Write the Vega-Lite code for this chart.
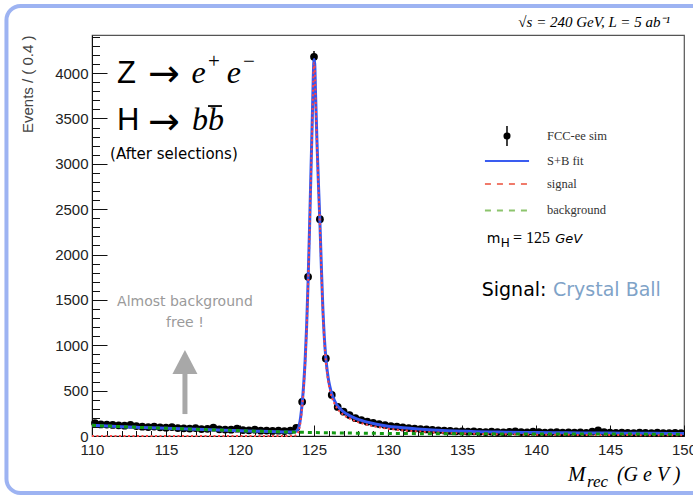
{
  "$schema": "https://vega.github.io/schema/vega-lite/v6.json",
  "width": 592,
  "height": 401,
  "autosize": {"type": "none"},
  "padding": {"left": 92, "top": 35, "right": 9, "bottom": 60},
  "background": "white",
  "config": {
    "view": {"stroke": "#555555", "strokeWidth": 1.2},
    "axis": {
      "grid": false,
      "domainColor": "#111111",
      "tickColor": "#111111",
      "labelFont": "Liberation Sans",
      "labelFontSize": 15,
      "labelColor": "#222222",
      "labelFlush": false,
      "labelOverlap": false,
      "labelBound": false
    }
  },
  "datasets": {
    "hist": [
      {"m": 110.2, "n": 142, "err": 11.9}, {"m": 110.6, "n": 128, "err": 11.3}, {"m": 111.0, "n": 126, "err": 11.2},
      {"m": 111.4, "n": 122, "err": 11.0}, {"m": 111.8, "n": 118, "err": 10.9}, {"m": 112.2, "n": 114, "err": 10.7},
      {"m": 112.6, "n": 124, "err": 11.1}, {"m": 113.0, "n": 110, "err": 10.5}, {"m": 113.4, "n": 102, "err": 10.1},
      {"m": 113.8, "n": 98, "err": 9.9}, {"m": 114.2, "n": 104, "err": 10.2}, {"m": 114.6, "n": 96, "err": 9.8},
      {"m": 115.0, "n": 92, "err": 9.6}, {"m": 115.4, "n": 99, "err": 9.9}, {"m": 115.8, "n": 88, "err": 9.4},
      {"m": 116.2, "n": 85, "err": 9.2}, {"m": 116.6, "n": 82, "err": 9.1}, {"m": 117.0, "n": 88, "err": 9.4},
      {"m": 117.4, "n": 76, "err": 8.7}, {"m": 117.8, "n": 79, "err": 8.9}, {"m": 118.2, "n": 92, "err": 9.6},
      {"m": 118.6, "n": 74, "err": 8.6}, {"m": 119.0, "n": 71, "err": 8.4}, {"m": 119.4, "n": 69, "err": 8.3},
      {"m": 119.8, "n": 80, "err": 8.9}, {"m": 120.2, "n": 66, "err": 8.1}, {"m": 120.6, "n": 63, "err": 7.9},
      {"m": 121.0, "n": 70, "err": 8.4}, {"m": 121.4, "n": 58, "err": 7.6}, {"m": 121.8, "n": 60, "err": 7.7},
      {"m": 122.2, "n": 56, "err": 7.5}, {"m": 122.6, "n": 58, "err": 7.6}, {"m": 123.0, "n": 54, "err": 7.3},
      {"m": 123.4, "n": 60, "err": 7.7}, {"m": 123.8, "n": 90, "err": 9.5}, {"m": 124.2, "n": 377, "err": 19.4},
      {"m": 124.6, "n": 1755, "err": 41.9}, {"m": 125.0, "n": 4180, "err": 64.7}, {"m": 125.4, "n": 2390, "err": 48.9},
      {"m": 125.8, "n": 855, "err": 29.2}, {"m": 126.2, "n": 452, "err": 21.3}, {"m": 126.6, "n": 320, "err": 17.9},
      {"m": 127.0, "n": 268, "err": 16.4}, {"m": 127.4, "n": 231, "err": 15.2}, {"m": 127.8, "n": 196, "err": 14.0},
      {"m": 128.2, "n": 176, "err": 13.3}, {"m": 128.6, "n": 158, "err": 12.6}, {"m": 129.0, "n": 146, "err": 12.1},
      {"m": 129.4, "n": 132, "err": 11.5}, {"m": 129.8, "n": 120, "err": 11.0}, {"m": 130.2, "n": 110, "err": 10.5},
      {"m": 130.6, "n": 102, "err": 10.1}, {"m": 131.0, "n": 94, "err": 9.7}, {"m": 131.4, "n": 88, "err": 9.4},
      {"m": 131.8, "n": 82, "err": 9.1}, {"m": 132.2, "n": 77, "err": 8.8}, {"m": 132.6, "n": 72, "err": 8.5},
      {"m": 133.0, "n": 68, "err": 8.2}, {"m": 133.4, "n": 62, "err": 7.9}, {"m": 133.8, "n": 60, "err": 7.7},
      {"m": 134.2, "n": 56, "err": 7.5}, {"m": 134.6, "n": 52, "err": 7.2}, {"m": 135.0, "n": 50, "err": 7.1},
      {"m": 135.4, "n": 48, "err": 6.9}, {"m": 135.8, "n": 52, "err": 7.2}, {"m": 136.2, "n": 46, "err": 6.8},
      {"m": 136.6, "n": 44, "err": 6.6}, {"m": 137.0, "n": 48, "err": 6.9}, {"m": 137.4, "n": 43, "err": 6.6},
      {"m": 137.8, "n": 41, "err": 6.4}, {"m": 138.2, "n": 46, "err": 6.8}, {"m": 138.6, "n": 52, "err": 7.2},
      {"m": 139.0, "n": 44, "err": 6.6}, {"m": 139.4, "n": 40, "err": 6.3}, {"m": 139.8, "n": 48, "err": 6.9},
      {"m": 140.2, "n": 42, "err": 6.5}, {"m": 140.6, "n": 38, "err": 6.2}, {"m": 141.0, "n": 40, "err": 6.3},
      {"m": 141.4, "n": 43, "err": 6.6}, {"m": 141.8, "n": 37, "err": 6.1}, {"m": 142.2, "n": 40, "err": 6.3},
      {"m": 142.6, "n": 36, "err": 6.0}, {"m": 143.0, "n": 39, "err": 6.2}, {"m": 143.4, "n": 35, "err": 5.9},
      {"m": 143.8, "n": 48, "err": 6.9}, {"m": 144.2, "n": 62, "err": 7.9}, {"m": 144.6, "n": 44, "err": 6.6},
      {"m": 145.0, "n": 36, "err": 6.0}, {"m": 145.4, "n": 34, "err": 5.8}, {"m": 145.8, "n": 38, "err": 6.2},
      {"m": 146.2, "n": 35, "err": 5.9}, {"m": 146.6, "n": 33, "err": 5.7}, {"m": 147.0, "n": 37, "err": 6.1},
      {"m": 147.4, "n": 34, "err": 5.8}, {"m": 147.8, "n": 32, "err": 5.7}, {"m": 148.2, "n": 36, "err": 6.0},
      {"m": 148.6, "n": 33, "err": 5.7}, {"m": 149.0, "n": 31, "err": 5.6}, {"m": 149.4, "n": 35, "err": 5.9},
      {"m": 149.8, "n": 32, "err": 5.7}
    ],
    "fit": [
      {"m": 110, "v": 118}, {"m": 111, "v": 110}, {"m": 112, "v": 103}, {"m": 113, "v": 96}, {"m": 114, "v": 90},
      {"m": 115, "v": 85}, {"m": 116, "v": 80}, {"m": 117, "v": 74}, {"m": 118, "v": 69}, {"m": 119, "v": 63},
      {"m": 120, "v": 58}, {"m": 121, "v": 53}, {"m": 122, "v": 49}, {"m": 123, "v": 45}, {"m": 123.6, "v": 43},
      {"m": 123.8, "v": 52}, {"m": 123.9, "v": 70}, {"m": 124.0, "v": 115}, {"m": 124.1, "v": 210}, {"m": 124.2, "v": 360},
      {"m": 124.3, "v": 560}, {"m": 124.4, "v": 830}, {"m": 124.5, "v": 1200}, {"m": 124.6, "v": 1700}, {"m": 124.7, "v": 2300},
      {"m": 124.8, "v": 2950}, {"m": 124.9, "v": 3600}, {"m": 124.95, "v": 3950}, {"m": 125.0, "v": 4150}, {"m": 125.05, "v": 4100},
      {"m": 125.1, "v": 3800}, {"m": 125.2, "v": 3250}, {"m": 125.3, "v": 2780}, {"m": 125.4, "v": 2350}, {"m": 125.5, "v": 1850},
      {"m": 125.6, "v": 1400}, {"m": 125.7, "v": 1080}, {"m": 125.8, "v": 860}, {"m": 125.9, "v": 710}, {"m": 126.0, "v": 600},
      {"m": 126.1, "v": 525}, {"m": 126.2, "v": 465}, {"m": 126.4, "v": 385}, {"m": 126.6, "v": 330}, {"m": 126.8, "v": 295},
      {"m": 127.0, "v": 265}, {"m": 127.4, "v": 225}, {"m": 127.8, "v": 195}, {"m": 128.2, "v": 172}, {"m": 128.6, "v": 153},
      {"m": 129.0, "v": 138}, {"m": 129.5, "v": 122}, {"m": 130.0, "v": 108}, {"m": 130.5, "v": 98}, {"m": 131.0, "v": 90},
      {"m": 132.0, "v": 77}, {"m": 133.0, "v": 67}, {"m": 134.0, "v": 59}, {"m": 135.0, "v": 53}, {"m": 136.0, "v": 48},
      {"m": 137.0, "v": 45}, {"m": 138.0, "v": 42}, {"m": 140.0, "v": 38}, {"m": 142.0, "v": 35}, {"m": 144.0, "v": 33},
      {"m": 146.0, "v": 31}, {"m": 148.0, "v": 29.5}, {"m": 150.0, "v": 28}
    ],
    "sig": [
      {"m": 110, "v": 0}, {"m": 123.6, "v": 0}, {"m": 123.8, "v": 10}, {"m": 123.9, "v": 28}, {"m": 124.0, "v": 74},
      {"m": 124.1, "v": 170}, {"m": 124.2, "v": 320}, {"m": 124.3, "v": 520}, {"m": 124.4, "v": 790}, {"m": 124.5, "v": 1160},
      {"m": 124.6, "v": 1660}, {"m": 124.7, "v": 2260}, {"m": 124.8, "v": 2910}, {"m": 124.9, "v": 3560}, {"m": 124.95, "v": 3910},
      {"m": 125.0, "v": 4110}, {"m": 125.05, "v": 4060}, {"m": 125.1, "v": 3760}, {"m": 125.2, "v": 3210}, {"m": 125.3, "v": 2740},
      {"m": 125.4, "v": 2310}, {"m": 125.5, "v": 1810}, {"m": 125.6, "v": 1360}, {"m": 125.7, "v": 1045}, {"m": 125.8, "v": 825},
      {"m": 125.9, "v": 675}, {"m": 126.0, "v": 565}, {"m": 126.1, "v": 490}, {"m": 126.2, "v": 430}, {"m": 126.4, "v": 351},
      {"m": 126.6, "v": 296}, {"m": 126.8, "v": 261}, {"m": 127.0, "v": 232}, {"m": 127.4, "v": 193}, {"m": 127.8, "v": 163},
      {"m": 128.2, "v": 141}, {"m": 128.6, "v": 123}, {"m": 129.0, "v": 108}, {"m": 129.5, "v": 93}, {"m": 130.0, "v": 80},
      {"m": 130.5, "v": 71}, {"m": 131.0, "v": 63}, {"m": 132.0, "v": 51}, {"m": 133.0, "v": 41}, {"m": 134.0, "v": 34},
      {"m": 135.0, "v": 28}, {"m": 136.0, "v": 24}, {"m": 137.0, "v": 21}, {"m": 138.0, "v": 19}, {"m": 140.0, "v": 15},
      {"m": 142.0, "v": 13}, {"m": 144.0, "v": 11}, {"m": 146.0, "v": 10}, {"m": 148.0, "v": 9}, {"m": 150.0, "v": 8}
    ],
    "bkg": [
      {"m": 110, "v": 118}, {"m": 111, "v": 110}, {"m": 112, "v": 103}, {"m": 113, "v": 96}, {"m": 114, "v": 90},
      {"m": 115, "v": 85}, {"m": 116, "v": 80}, {"m": 117, "v": 74}, {"m": 118, "v": 69}, {"m": 119, "v": 63},
      {"m": 120, "v": 58}, {"m": 121, "v": 53}, {"m": 122, "v": 49}, {"m": 123, "v": 45}, {"m": 124, "v": 41},
      {"m": 125, "v": 38}, {"m": 126, "v": 35}, {"m": 127, "v": 33}, {"m": 128, "v": 31}, {"m": 129, "v": 29.5},
      {"m": 130, "v": 28}, {"m": 132, "v": 26}, {"m": 134, "v": 25}, {"m": 136, "v": 24}, {"m": 138, "v": 23},
      {"m": 140, "v": 22.5}, {"m": 142, "v": 22}, {"m": 144, "v": 21.5}, {"m": 146, "v": 21}, {"m": 148, "v": 20.5},
      {"m": 150, "v": 20}
    ]
  },
  "resolve": {"axis": {"x": "independent", "y": "independent"}},
  "layer": [
    {
      "data": {"values": [{}]},
      "mark": {"type": "rect", "fill": "transparent", "stroke": "#9db3f2", "strokeWidth": 4, "cornerRadius": 14},
      "encoding": {
        "x": {"datum": 104.22, "type": "quantitative", "axis": null},
        "x2": {"datum": 153.5},
        "y": {"datum": 4740, "type": "quantitative", "axis": null},
        "y2": {"datum": -628}
      }
    },
    {
      "data": {"name": "hist"},
      "mark": {"type": "point", "filled": true, "size": 60, "color": "#000000", "opacity": 1},
      "encoding": {
        "x": {
          "field": "m", "type": "quantitative",
          "scale": {"domain": [110, 150], "nice": false, "zero": false},
          "axis": {"orient": "bottom", "values": [110, 115, 120, 125, 130, 135, 140, 145, 150], "tickSize": -11, "labelPadding": 17, "title": null}
        },
        "y": {
          "field": "n", "type": "quantitative",
          "scale": {"domain": [0, 4420], "nice": false, "zero": true},
          "axis": {
            "orient": "left", "values": [0, 500, 1000, 1500, 2000, 2500, 3000, 3500, 4000], "format": "d",
            "tickSize": -15, "labelPadding": 19,
            "title": "Events / ( 0.4 )", "titleFont": "Liberation Sans", "titleFontSize": 15, "titleFontWeight": "normal",
            "titleColor": "#444444", "titleX": -65, "titleY": 0, "titleAlign": "right", "titleBaseline": "middle", "titleAngle": -90
          }
        }
      }
    },
    {
      "data": {"name": "hist"},
      "mark": {"type": "errorbar", "color": "#000000", "thickness": 1.5},
      "encoding": {
        "x": {"field": "m", "type": "quantitative", "axis": null},
        "y": {"field": "n", "type": "quantitative", "axis": null},
        "yError": {"field": "err"}
      }
    },
    {
      "data": {"name": "fit"},
      "mark": {"type": "line", "color": "#3355ee", "strokeWidth": 3, "interpolate": "monotone"},
      "encoding": {
        "x": {"field": "m", "type": "quantitative", "axis": null},
        "y": {"field": "v", "type": "quantitative", "axis": null}
      }
    },
    {
      "data": {"name": "sig"},
      "mark": {"type": "line", "color": "#ff4444", "strokeWidth": 2, "strokeDash": [2, 2.5], "interpolate": "monotone"},
      "encoding": {
        "x": {"field": "m", "type": "quantitative", "axis": null},
        "y": {"field": "v", "type": "quantitative", "axis": null}
      }
    },
    {
      "data": {"name": "bkg"},
      "mark": {"type": "line", "color": "#139a13", "strokeWidth": 3, "strokeDash": [4, 4], "interpolate": "monotone"},
      "encoding": {
        "x": {"field": "m", "type": "quantitative", "axis": null},
        "y": {"field": "v", "type": "quantitative", "axis": null}
      }
    },
    {
      "data": {"name": "bkg"},
      "mark": {"type": "point", "opacity": 0},
      "encoding": {
        "x": {
          "field": "m", "type": "quantitative",
          "scale": {"domain": [110, 150], "nice": false, "zero": false},
          "axis": {"orient": "bottom", "values": [111, 112, 113, 114, 116, 117, 118, 119, 121, 122, 123, 124, 126, 127, 128, 129, 131, 132, 133, 134, 136, 137, 138, 139, 141, 142, 143, 144, 146, 147, 148, 149], "tickSize": -5.5, "labels": false, "domain": false, "title": null}
        },
        "y": {
          "field": "v", "type": "quantitative",
          "scale": {"domain": [0, 4420], "nice": false, "zero": true},
          "axis": {"orient": "left", "values": [100, 200, 300, 400, 600, 700, 800, 900, 1100, 1200, 1300, 1400, 1600, 1700, 1800, 1900, 2100, 2200, 2300, 2400, 2600, 2700, 2800, 2900, 3100, 3200, 3300, 3400, 3600, 3700, 3800, 3900, 4100, 4200, 4300, 4400], "tickSize": -7.5, "labels": false, "domain": false, "title": null}
        }
      }
    },
    {
      "data": {"values": [{}]},
      "mark": {"type": "rule", "color": "#000000", "strokeWidth": 1.5},
      "encoding": {"x": {"datum": 138.04, "type": "quantitative", "axis": null}, "y": {"datum": 3197, "type": "quantitative", "axis": null}, "y2": {"datum": 3417}}
    },
    {
      "data": {"values": [{}]},
      "mark": {"type": "point", "filled": true, "size": 50, "color": "#000000", "opacity": 1},
      "encoding": {"x": {"datum": 138.04, "type": "quantitative", "axis": null}, "y": {"datum": 3307, "type": "quantitative", "axis": null}}
    },
    {
      "data": {"values": [{}]},
      "mark": {"type": "rule", "color": "#3a5cf0", "strokeWidth": 2},
      "encoding": {"x": {"datum": 136.55, "type": "quantitative", "axis": null}, "x2": {"datum": 139.53}, "y": {"datum": 3031, "type": "quantitative", "axis": null}}
    },
    {
      "data": {"values": [{}]},
      "mark": {"type": "rule", "color": "#f07a6a", "strokeWidth": 2, "strokeDash": [6, 6]},
      "encoding": {"x": {"datum": 136.55, "type": "quantitative", "axis": null}, "x2": {"datum": 139.53}, "y": {"datum": 2778, "type": "quantitative", "axis": null}}
    },
    {
      "data": {"values": [{}]},
      "mark": {"type": "rule", "color": "#8cc46c", "strokeWidth": 2, "strokeDash": [6, 6]},
      "encoding": {"x": {"datum": 136.55, "type": "quantitative", "axis": null}, "x2": {"datum": 139.53}, "y": {"datum": 2486, "type": "quantitative", "axis": null}}
    },
    {
      "data": {"values": [{}]},
      "mark": {"type": "text", "text": "FCC-ee sim", "font": "Liberation Serif", "fontSize": 12.5, "align": "left", "baseline": "middle", "color": "#333333"},
      "encoding": {"x": {"datum": 140.74, "type": "quantitative", "axis": null}, "y": {"datum": 3307, "type": "quantitative", "axis": null}}
    },
    {
      "data": {"values": [{}]},
      "mark": {"type": "text", "text": "S+B fit", "font": "Liberation Serif", "fontSize": 12.5, "align": "left", "baseline": "middle", "color": "#333333"},
      "encoding": {"x": {"datum": 140.74, "type": "quantitative", "axis": null}, "y": {"datum": 3031, "type": "quantitative", "axis": null}}
    },
    {
      "data": {"values": [{}]},
      "mark": {"type": "text", "text": "signal", "font": "Liberation Serif", "fontSize": 12.5, "align": "left", "baseline": "middle", "color": "#333333"},
      "encoding": {"x": {"datum": 140.74, "type": "quantitative", "axis": null}, "y": {"datum": 2778, "type": "quantitative", "axis": null}}
    },
    {
      "data": {"values": [{}]},
      "mark": {"type": "text", "text": "background", "font": "Liberation Serif", "fontSize": 12.5, "align": "left", "baseline": "middle", "color": "#333333"},
      "encoding": {"x": {"datum": 140.74, "type": "quantitative", "axis": null}, "y": {"datum": 2486, "type": "quantitative", "axis": null}}
    },
    {
      "data": {"values": [{}]},
      "mark": {"type": "text", "text": "Z", "font": "Liberation Sans", "fontSize": 31, "align": "left", "baseline": "alphabetic", "color": "#000000"},
      "encoding": {"x": {"datum": 111.69, "type": "quantitative", "axis": null}, "y": {"datum": 3891, "type": "quantitative", "axis": null}}
    },
    {
      "data": {"values": [{}]},
      "mark": {"type": "text", "text": "→", "font": "DejaVu Sans", "fontSize": 38, "align": "left", "baseline": "alphabetic", "color": "#000000"},
      "encoding": {"x": {"datum": 113.78, "type": "quantitative", "axis": null}, "y": {"datum": 3858, "type": "quantitative", "axis": null}}
    },
    {
      "data": {"values": [{}]},
      "mark": {"type": "text", "text": "e", "font": "Liberation Serif", "fontStyle": "italic", "fontSize": 32, "align": "left", "baseline": "alphabetic", "color": "#000000"},
      "encoding": {"x": {"datum": 116.72, "type": "quantitative", "axis": null}, "y": {"datum": 3891, "type": "quantitative", "axis": null}}
    },
    {
      "data": {"values": [{}]},
      "mark": {"type": "text", "text": "e", "font": "Liberation Serif", "fontStyle": "italic", "fontSize": 32, "align": "left", "baseline": "alphabetic", "color": "#000000"},
      "encoding": {"x": {"datum": 119.1, "type": "quantitative", "axis": null}, "y": {"datum": 3891, "type": "quantitative", "axis": null}}
    },
    {
      "data": {"values": [{}]},
      "mark": {"type": "text", "text": "+", "font": "Liberation Serif", "fontSize": 21, "align": "left", "baseline": "alphabetic", "color": "#000000"},
      "encoding": {"x": {"datum": 117.84, "type": "quantitative", "axis": null}, "y": {"datum": 4056, "type": "quantitative", "axis": null}}
    },
    {
      "data": {"values": [{}]},
      "mark": {"type": "text", "text": "−", "font": "Liberation Serif", "fontSize": 21, "align": "left", "baseline": "alphabetic", "color": "#000000"},
      "encoding": {"x": {"datum": 120.2, "type": "quantitative", "axis": null}, "y": {"datum": 4056, "type": "quantitative", "axis": null}}
    },
    {
      "data": {"values": [{}]},
      "mark": {"type": "text", "text": "H", "font": "Liberation Sans", "fontSize": 31, "align": "left", "baseline": "alphabetic", "color": "#000000"},
      "encoding": {"x": {"datum": 111.69, "type": "quantitative", "axis": null}, "y": {"datum": 3373, "type": "quantitative", "axis": null}}
    },
    {
      "data": {"values": [{}]},
      "mark": {"type": "text", "text": "→", "font": "DejaVu Sans", "fontSize": 38, "align": "left", "baseline": "alphabetic", "color": "#000000"},
      "encoding": {"x": {"datum": 113.78, "type": "quantitative", "axis": null}, "y": {"datum": 3329, "type": "quantitative", "axis": null}}
    },
    {
      "data": {"values": [{}]},
      "mark": {"type": "text", "text": "bb", "font": "Liberation Serif", "fontStyle": "italic", "fontSize": 32, "align": "left", "baseline": "alphabetic", "color": "#000000"},
      "encoding": {"x": {"datum": 116.76, "type": "quantitative", "axis": null}, "y": {"datum": 3373, "type": "quantitative", "axis": null}}
    },
    {
      "data": {"values": [{}]},
      "mark": {"type": "rule", "color": "#000000", "strokeWidth": 1.8},
      "encoding": {"x": {"datum": 117.84, "type": "quantitative", "axis": null}, "x2": {"datum": 118.78}, "y": {"datum": 3637, "type": "quantitative", "axis": null}}
    },
    {
      "data": {"values": [{}]},
      "mark": {"type": "text", "text": "(After selections)", "font": "DejaVu Sans", "fontSize": 15, "align": "left", "baseline": "alphabetic", "color": "#000000"},
      "encoding": {"x": {"datum": 111.22, "type": "quantitative", "axis": null}, "y": {"datum": 3053, "type": "quantitative", "axis": null}}
    },
    {
      "data": {"values": [{}]},
      "mark": {"type": "text", "text": ["Almost background", "free !"], "lineHeight": 21, "font": "DejaVu Sans", "fontSize": 14, "align": "center", "baseline": "alphabetic", "color": "#9a9a9a"},
      "encoding": {"x": {"datum": 116.28, "type": "quantitative", "axis": null}, "y": {"datum": 1433, "type": "quantitative", "axis": null}}
    },
    {
      "data": {"values": [{}]},
      "mark": {"type": "rule", "color": "#a8a8a8", "strokeWidth": 5, "strokeCap": "butt"},
      "encoding": {"x": {"datum": 116.28, "type": "quantitative", "axis": null}, "y": {"datum": 242, "type": "quantitative", "axis": null}, "y2": {"datum": 705}}
    },
    {
      "data": {"values": [{}]},
      "mark": {"type": "point", "shape": "M0,-0.96L1,0.96L-1,0.96Z", "size": 625, "filled": true, "color": "#a8a8a8", "opacity": 1},
      "encoding": {"x": {"datum": 116.28, "type": "quantitative", "axis": null}, "y": {"datum": 816, "type": "quantitative", "axis": null}}
    },
    {
      "data": {"values": [{}]},
      "mark": {"type": "text", "text": "Signal:", "font": "DejaVu Sans", "fontSize": 19, "align": "left", "baseline": "alphabetic", "color": "#000000"},
      "encoding": {"x": {"datum": 136.33, "type": "quantitative", "axis": null}, "y": {"datum": 1543, "type": "quantitative", "axis": null}}
    },
    {
      "data": {"values": [{}]},
      "mark": {"type": "text", "text": "Crystal Ball", "font": "DejaVu Sans", "fontSize": 19, "align": "left", "baseline": "alphabetic", "color": "#7fa3c8"},
      "encoding": {"x": {"datum": 141.15, "type": "quantitative", "axis": null}, "y": {"datum": 1543, "type": "quantitative", "axis": null}}
    },
    {
      "data": {"values": [{}]},
      "mark": {"type": "text", "text": "m", "font": "DejaVu Sans", "fontSize": 14, "align": "left", "baseline": "alphabetic", "color": "#000000"},
      "encoding": {"x": {"datum": 136.67, "type": "quantitative", "axis": null}, "y": {"datum": 2124, "type": "quantitative", "axis": null}}
    },
    {
      "data": {"values": [{}]},
      "mark": {"type": "text", "text": "H", "font": "DejaVu Sans", "fontSize": 12, "align": "left", "baseline": "alphabetic", "color": "#000000"},
      "encoding": {"x": {"datum": 137.62, "type": "quantitative", "axis": null}, "y": {"datum": 2083, "type": "quantitative", "axis": null}}
    },
    {
      "data": {"values": [{}]},
      "mark": {"type": "text", "text": "= 125", "font": "Liberation Serif", "fontSize": 16, "align": "left", "baseline": "alphabetic", "color": "#000000"},
      "encoding": {"x": {"datum": 138.45, "type": "quantitative", "axis": null}, "y": {"datum": 2124, "type": "quantitative", "axis": null}}
    },
    {
      "data": {"values": [{}]},
      "mark": {"type": "text", "text": "GeV", "font": "DejaVu Sans", "fontStyle": "italic", "fontSize": 13, "align": "left", "baseline": "alphabetic", "color": "#000000"},
      "encoding": {"x": {"datum": 141.3, "type": "quantitative", "axis": null}, "y": {"datum": 2124, "type": "quantitative", "axis": null}}
    },
    {
      "data": {"values": [{}]},
      "mark": {"type": "text", "text": "√s = 240 GeV, L = 5 ab⁻¹", "font": "Liberation Serif", "fontStyle": "italic", "fontSize": 15, "align": "right", "baseline": "alphabetic", "color": "#000000"},
      "encoding": {"x": {"datum": 149.05, "type": "quantitative", "axis": null}, "y": {"datum": 4508, "type": "quantitative", "axis": null}}
    },
    {
      "data": {"values": [{}]},
      "mark": {"type": "text", "text": "M", "font": "Liberation Serif", "fontStyle": "italic", "fontSize": 21, "align": "left", "baseline": "alphabetic", "color": "#000000"},
      "encoding": {"x": {"datum": 142.16, "type": "quantitative", "axis": null}, "y": {"datum": -496, "type": "quantitative", "axis": null}}
    },
    {
      "data": {"values": [{}]},
      "mark": {"type": "text", "text": "rec", "font": "Liberation Serif", "fontStyle": "italic", "fontSize": 17, "align": "left", "baseline": "alphabetic", "color": "#000000"},
      "encoding": {"x": {"datum": 143.45, "type": "quantitative", "axis": null}, "y": {"datum": -562, "type": "quantitative", "axis": null}}
    },
    {
      "data": {"values": [{}]},
      "mark": {"type": "text", "text": "(G e V )", "font": "Liberation Serif", "fontStyle": "italic", "fontSize": 20, "align": "left", "baseline": "alphabetic", "color": "#000000"},
      "encoding": {"x": {"datum": 145.47, "type": "quantitative", "axis": null}, "y": {"datum": -496, "type": "quantitative", "axis": null}}
    }
  ]
}
